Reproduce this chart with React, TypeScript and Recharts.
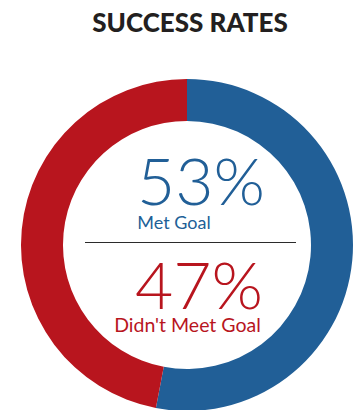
import { Cell, Pie, PieChart } from 'recharts';

const categories = ['Met Goal', "Didn't Meet Goal"];
const percents = [53, 47];
const sliceColors = ['#215f97', '#b8151e'];

const data = categories.map((name, i) => ({ name, value: percents[i] }));

const font = 'Lato, "Open Sans", sans-serif';

const App = () => {
	return (
		<div style={{ position: 'absolute', left: 0, top: 0, width: 354, height: 410, background: '#fff' }}>
			<PieChart width={354} height={410} margin={{ top: 0, right: 0, bottom: 0, left: 0 }}>
				<text
					x={190}
					y={32}
					textAnchor='middle'
					fontFamily={font}
					fontWeight={900}
					fontSize={26}
					fill='#231f20'
				>
					SUCCESS RATES
				</text>
				<Pie
					data={data}
					dataKey='value'
					nameKey='name'
					cx={187}
					cy={245}
					innerRadius={124}
					outerRadius={166}
					startAngle={90}
					endAngle={-270}
					stroke='none'
					isAnimationActive={false}
				>
					{data.map((entry, index) => (
						<Cell key={`cell-${index}`} fill={sliceColors[index]} />
					))}
				</Pie>
				<text x={201} y={205} textAnchor='middle' fontFamily={font} fontWeight={300} fontSize={66} fill={sliceColors[0]}>
					{`${percents[0]}%`}
				</text>
				<text x={174} y={229} textAnchor='middle' fontFamily={font} fontSize={18} fill={sliceColors[0]}>
					{categories[0]}
				</text>
				<line x1={85} x2={296} y1={242.5} y2={242.5} stroke='#2b2b2b' strokeWidth={1} />
				<text x={199} y={309} textAnchor='middle' fontFamily={font} fontWeight={300} fontSize={66} fill={sliceColors[1]}>
					{`${percents[1]}%`}
				</text>
				<text x={187.5} y={332} textAnchor='middle' fontFamily={font} fontSize={19.5} fill={sliceColors[1]}>
					{categories[1]}
				</text>
			</PieChart>
		</div>
	);
};

export default App;
